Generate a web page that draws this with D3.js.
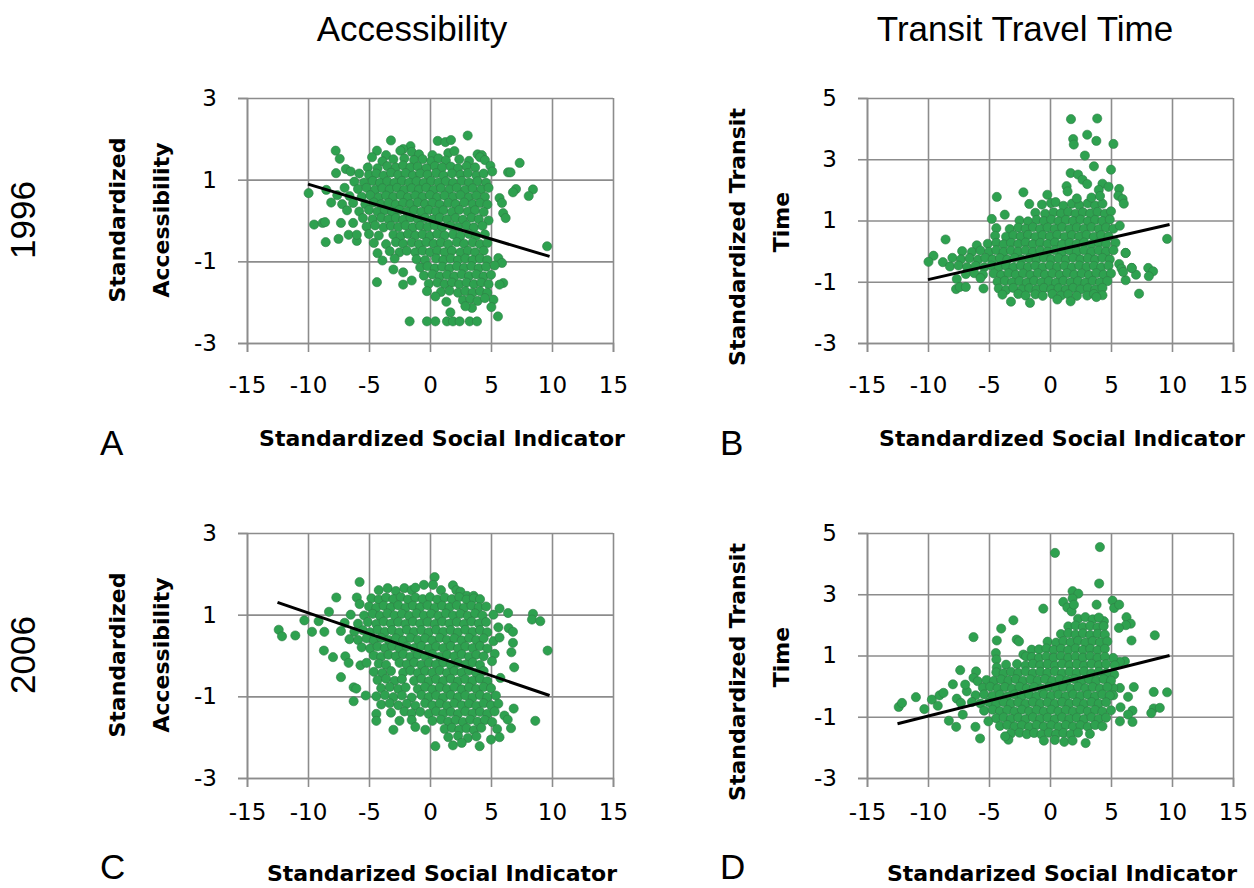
<!DOCTYPE html>
<html>
<head>
<meta charset="utf-8">
<script src="https://cdn.jsdelivr.net/npm/d3@7"></script>
<style>
body { margin: 0; background: #fff; }
</style>
</head>
<body>
<script>
// ---- data ----
var xTicks = [-15, -10, -5, 0, 5, 10, 15];
var accTicks = [-3, -1, 1, 3];
var timeTicks = [-3, -1, 1, 3, 5];

var colTitles = ["Accessibility", "Transit Travel Time"];
var rowTitles = ["1996", "2006"];
var panelLetters = ["A", "B", "C", "D"];
var xTitles = ["Standardized Social Indicator", "Standardized Social Indicator",
               "Standarized Social Indicator", "Standarized Social Indicator"];
var yTitlesAcc = ["Standardized", "Accessibility"];
var yTitlesTime = ["Standardized Transit", "Time"];

// A: 1996 accessibility
var pointsA = [
 [-3.2,1.96],[0.63,1.95],[1.26,1.92],[1.72,1.97],[3.09,2.08],[-1.6,1.82],[-2.2,1.75],
 [-7.73,1.71],[-4.35,1.71],[-2.43,1.71],[-1.5,1.68],[-0.9,1.62],[0.2,1.6],[1.5,1.65],[2.0,1.7],[3.9,1.62],[4.25,1.6],[-3.6,1.6],
 [-7.4,1.51],[-4.75,1.55],[-3.9,1.45],[-3.0,1.5],[-2.1,1.52],[-1.3,1.48],[-0.6,1.5],[0.1,1.45],[0.7,1.52],[1.3,1.47],[2.4,1.5],[3.2,1.46],[4.1,1.55],[4.5,1.48],[7.35,1.41],
 [-5.1,1.3],[-4.3,1.28],[-3.5,1.33],[-2.8,1.3],[-2.2,1.35],[-1.6,1.3],[-1.0,1.32],[-0.3,1.28],[0.4,1.33],[1.0,1.3],[1.7,1.32],[2.3,1.28],[3.0,1.33],[3.7,1.3],[4.95,1.34],[-6.9,1.26],[-6.5,1.2],
 [-7.7,1.16],[-5.8,1.15],[-5.0,1.12],[-4.4,1.15],[-3.8,1.1],[-3.2,1.17],[-2.6,1.12],[-2.0,1.16],[-1.4,1.1],[-0.8,1.15],[-0.2,1.12],[0.5,1.16],[1.1,1.1],[1.8,1.15],[2.5,1.12],[3.1,1.16],[3.8,1.1],[4.4,1.15],[5.1,1.2],[6.4,1.18],[6.6,1.18],
 [-6.2,0.95],[-5.4,0.93],[-4.7,0.97],[-4.1,0.92],[-3.5,0.96],[-2.9,0.92],[-2.3,0.97],[-1.7,0.93],[-1.1,0.96],[-0.5,0.92],[0.1,0.97],[0.7,0.93],[1.3,0.96],[1.9,0.92],[2.6,0.97],[3.2,0.93],[3.9,0.96],[4.6,0.92],
 [-8.5,0.75],[-7.0,0.8],[-5.9,0.77],[-5.2,0.8],[-4.5,0.75],[-3.9,0.79],[-3.3,0.76],[-2.7,0.8],[-2.1,0.75],[-1.5,0.79],[-0.9,0.76],[-0.3,0.8],[0.3,0.75],[0.9,0.79],[1.6,0.76],[2.2,0.8],[2.9,0.75],[3.5,0.79],[4.2,0.76],[4.8,0.8],[7.05,0.77],[8.44,0.76],
 [-9.95,0.67],[-7.6,0.62],[-6.6,0.6],[-5.6,0.58],[-4.9,0.62],[-4.2,0.57],[-3.6,0.61],[-3.0,0.58],[-2.4,0.62],[-1.8,0.57],[-1.2,0.61],[-0.6,0.58],[0.0,0.62],[0.6,0.57],[1.2,0.61],[1.9,0.58],[2.5,0.62],[3.2,0.57],[3.8,0.61],[4.5,0.58],[6.8,0.69],[8.09,0.6],[5.7,0.55],
 [-8.1,0.44],[-7.2,0.4],[-6.3,0.43],[-5.3,0.4],[-4.6,0.44],[-4.0,0.4],[-3.4,0.43],[-2.8,0.39],[-2.2,0.43],[-1.6,0.4],[-1.0,0.44],[-0.4,0.4],[0.2,0.43],[0.8,0.39],[1.5,0.43],[2.1,0.4],[2.8,0.44],[3.5,0.4],[4.1,0.43],[4.7,0.39],[5.9,0.43],
 [-6.8,0.25],[-5.8,0.22],[-5.0,0.26],[-4.3,0.22],[-3.7,0.25],[-3.1,0.21],[-2.5,0.26],[-1.9,0.22],[-1.3,0.25],[-0.7,0.21],[-0.1,0.26],[0.5,0.22],[1.1,0.25],[1.8,0.21],[2.4,0.26],[3.1,0.22],[3.7,0.25],[4.4,0.21],[6.0,0.18],
 [-9.5,-0.1],[-8.8,-0.06],[-8.6,-0.04],[-7.3,-0.06],[-6.3,-0.06],[-5.5,0.06],[-4.7,0.03],[-4.0,0.07],[-3.4,0.03],[-2.8,0.06],[-2.2,0.02],[-1.6,0.07],[-1.0,0.03],[-0.4,0.06],[0.2,0.02],[0.8,0.07],[1.4,0.03],[2.1,0.06],[2.7,0.02],[3.4,0.07],[4.0,0.03],[4.8,0.0],[6.2,0.06],
 [-5.2,-0.15],[-4.5,-0.12],[-3.8,-0.17],[-3.2,-0.13],[-2.6,-0.16],[-2.0,-0.12],[-1.4,-0.17],[-0.8,-0.13],[-0.2,-0.16],[0.4,-0.12],[1.0,-0.17],[1.7,-0.13],[2.3,-0.16],[3.0,-0.12],[3.6,-0.17],[4.3,-0.13],
 [-8.55,-0.53],[-7.5,-0.45],[-6.67,-0.35],[-6.0,-0.5],[-6.0,-0.35],[-5.0,-0.33],[-4.2,-0.37],[-3.0,-0.35],[-2.4,-0.38],[-1.8,-0.33],[-1.2,-0.37],[-0.6,-0.34],[0.0,-0.38],[0.6,-0.33],[1.2,-0.37],[1.9,-0.34],[2.5,-0.38],[3.2,-0.33],[3.8,-0.37],[4.5,-0.34],
 [-4.6,-0.55],[-3.6,-0.58],[-2.8,-0.53],[-2.2,-0.57],[-1.5,-0.54],[-0.9,-0.58],[-0.3,-0.53],[0.3,-0.57],[0.9,-0.54],[1.5,-0.58],[2.2,-0.53],[2.8,-0.57],[3.5,-0.54],[4.1,-0.58],[4.7,-0.55],[9.6,-0.63],
 [-4.3,-0.8],[-3.3,-0.75],[-2.5,-0.78],[-1.9,-0.74],[-1.2,-0.78],[-0.6,-0.74],[0.0,-0.78],[0.6,-0.74],[1.2,-0.78],[1.8,-0.74],[2.5,-0.78],[3.1,-0.74],[3.7,-0.78],[4.4,-0.74],
 [-3.9,-0.98],[-2.9,-0.93],[-1.1,-0.95],[-0.4,-0.97],[0.5,-0.93],[1.1,-0.97],[1.7,-0.93],[2.3,-0.97],[2.9,-0.93],[3.5,-0.97],[4.1,-0.93],[4.7,-0.97],[5.6,-0.92],[5.9,-1.04],
 [-3.0,-1.2],[-2.2,-1.27],[-0.8,-1.15],[-0.2,-1.12],[0.4,-1.17],[1.0,-1.13],[1.6,-1.17],[2.2,-1.12],[2.8,-1.16],[3.4,-1.12],[4.0,-1.17],[4.6,-1.13],[5.3,-1.1],
 [-1.5,-1.47],[-0.5,-1.35],[0.2,-1.32],[0.8,-1.37],[1.4,-1.33],[2.0,-1.37],[2.6,-1.32],[3.2,-1.36],[3.8,-1.32],[4.4,-1.37],[5.0,-1.33],
 [-4.35,-1.51],[-2.2,-1.57],[-0.1,-1.55],[0.6,-1.52],[1.2,-1.56],[1.8,-1.52],[2.4,-1.56],[3.0,-1.52],[3.6,-1.56],[4.2,-1.52],[4.8,-1.56],[6.0,-1.53],[5.7,-1.57],
 [-0.25,-1.73],[0.9,-1.75],[1.6,-1.72],[2.3,-1.77],[2.9,-1.73],[3.5,-1.77],[4.1,-1.73],[4.7,-1.77],
 [0.44,-1.86],[1.34,-1.99],[2.7,-1.95],[3.3,-1.92],[3.9,-1.97],[5.2,-1.94],[4.5,-1.9],
 [1.67,-2.25],[3.44,-2.14],[5.03,-2.12],[2.9,-2.1],
 [-1.67,-2.47],[-0.25,-2.47],[0.44,-2.47],[1.39,-2.47],[1.88,-2.47],[2.43,-2.47],[3.25,-2.47],[3.85,-2.47],[5.57,-2.35]
];

// B: 1996 transit travel time
var pointsB = [
 [1.72,4.31],[3.87,4.33],[1.9,3.66],[1.95,3.48],[3.05,3.8],[3.8,3.6],[5.2,3.5],[2.86,3.12],[3.6,2.77],[5.0,2.66],
 [1.69,2.55],[2.3,2.5],[2.67,2.33],[3.05,2.19],[1.36,2.12],[1.44,1.95],[4.3,2.2],[4.0,2.0],[4.8,2.1],
 [5.67,2.03],[5.6,1.81],[5.95,1.7],[6.05,1.55],[-2.18,1.92],[-0.22,1.84],[-4.36,1.77],
 [-1.7,1.54],[-0.66,1.52],[0.08,1.57],[0.46,1.6],[1.1,1.48],[1.8,1.55],[2.4,1.5],[3.1,1.56],[3.7,1.49],[4.3,1.55],[3.4,1.75],[4.1,1.8],[2.2,1.72],
 [-3.71,1.19],[-1.2,1.25],[-0.4,1.22],[0.3,1.27],[0.9,1.23],[1.5,1.28],[2.1,1.22],[2.7,1.27],[3.3,1.23],[3.9,1.28],[4.5,1.22],[5.0,1.3],
 [-4.77,1.05],[-2.5,1.0],[-1.8,0.97],[-1.1,1.02],[-0.5,0.98],[0.1,1.03],[0.7,0.97],[1.3,1.02],[1.9,0.98],[2.5,1.03],[3.1,0.97],[3.7,1.02],[4.3,0.98],[4.9,1.03],
 [-4.4,0.75],[-3.3,0.72],[-2.6,0.77],[-2.0,0.73],[-1.4,0.78],[-0.8,0.72],[-0.2,0.77],[0.4,0.73],[1.0,0.78],[1.6,0.72],[2.2,0.77],[2.8,0.73],[3.4,0.78],[4.0,0.72],[4.6,0.77],[5.2,0.73],[5.72,0.83],
 [-4.5,0.5],[-3.6,0.47],[-3.0,0.52],[-2.4,0.48],[-1.8,0.53],[-1.2,0.47],[-0.6,0.52],[0.0,0.48],[0.6,0.53],[1.2,0.47],[1.8,0.52],[2.4,0.48],[3.0,0.53],[3.6,0.47],[4.2,0.52],[4.8,0.48],
 [-8.56,0.38],[-6.0,0.19],[-5.1,0.24],[-4.4,0.27],[-3.8,0.22],[-3.2,0.27],[-2.6,0.23],[-2.0,0.28],[-1.4,0.22],[-0.8,0.27],[-0.2,0.23],[0.4,0.28],[1.0,0.22],[1.6,0.27],[2.2,0.23],[2.8,0.28],[3.4,0.22],[4.0,0.27],[4.6,0.23],[5.37,0.27],
 [-7.2,0.0],[-6.4,-0.03],[-5.7,0.02],[-5.0,-0.02],[-4.4,0.03],[-3.8,-0.03],[-3.2,0.02],[-2.6,-0.02],[-2.0,0.03],[-1.4,-0.03],[-0.8,0.02],[-0.2,-0.02],[0.4,0.03],[1.0,-0.03],[1.6,0.02],[2.2,-0.02],[2.8,0.03],[3.4,-0.03],[4.0,0.02],[4.6,-0.02],[5.2,0.03],[6.2,-0.06],
 [-9.55,-0.15],[-8.0,-0.22],[-7.3,-0.27],[-6.6,-0.23],[-5.9,-0.28],[-5.3,-0.22],[-4.7,-0.27],[-4.1,-0.23],[-3.5,-0.28],[-2.9,-0.22],[-2.3,-0.27],[-1.7,-0.23],[-1.1,-0.28],[-0.5,-0.22],[0.1,-0.27],[0.7,-0.23],[1.3,-0.28],[1.9,-0.22],[2.5,-0.27],[3.1,-0.23],[3.7,-0.28],[4.3,-0.22],[4.9,-0.27],
 [-9.96,-0.35],[-8.78,-0.36],[-8.2,-0.5],[-7.5,-0.47],[-6.8,-0.52],[-6.1,-0.48],[-5.4,-0.53],[-4.8,-0.47],[-4.2,-0.52],[-3.6,-0.48],[-3.0,-0.53],[-2.4,-0.47],[-1.8,-0.52],[-1.2,-0.48],[-0.6,-0.53],[0.0,-0.47],[0.6,-0.52],[1.2,-0.48],[1.8,-0.53],[2.4,-0.47],[3.0,-0.52],[3.6,-0.48],[4.2,-0.53],[4.8,-0.47],[5.67,-0.42],[6.7,-0.55],[8.05,-0.55],
 [-7.64,-0.91],[-6.9,-0.75],[-6.2,-0.72],[-5.5,-0.77],[-4.6,-0.73],[-4.0,-0.78],[-3.4,-0.72],[-2.8,-0.77],[-2.2,-0.73],[-1.6,-0.78],[-1.0,-0.72],[-0.4,-0.77],[0.2,-0.73],[0.8,-0.78],[1.4,-0.72],[2.0,-0.77],[2.6,-0.73],[3.2,-0.78],[3.8,-0.72],[4.4,-0.77],[5.0,-0.73],[5.86,-0.57],[7.05,-0.77],[8.45,-0.66],
 [-5.7,-0.88],[-4.3,-1.0],[-3.7,-0.97],[-3.1,-1.02],[-2.5,-0.98],[-1.9,-1.03],[-1.3,-0.97],[-0.7,-1.02],[-0.1,-0.98],[0.5,-1.03],[1.1,-0.97],[1.7,-1.02],[2.3,-0.98],[2.9,-1.03],[3.5,-0.97],[4.1,-1.02],[4.7,-0.98],[6.2,-0.95],[8.1,-0.82],[6.0,-0.68],
 [-7.7,-1.24],[-7.4,-1.17],[-6.9,-1.17],[-5.45,-1.22],[-4.2,-1.22],[-3.6,-1.27],[-3.0,-1.2],[-2.3,-1.25],[-1.7,-1.21],[-1.1,-1.26],[-0.5,-1.2],[0.1,-1.25],[0.7,-1.21],[1.3,-1.26],[1.9,-1.2],[2.5,-1.25],[3.1,-1.21],[3.7,-1.26],[4.3,-1.2],
 [-3.9,-1.42],[-2.6,-1.4],[-2.0,-1.45],[-1.2,-1.41],[-0.6,-1.46],[0.2,-1.4],[0.9,-1.45],[1.5,-1.41],[2.2,-1.46],[3.05,-1.45],[3.6,-1.4],[4.3,-1.44],[7.3,-1.39],
 [-3.2,-1.65],[-1.64,-1.69],[0.6,-1.58],[1.69,-1.64],[3.8,-1.5],
 [9.6,0.4],[6.7,-0.55],[6.2,-0.06]
];

// C: 2006 accessibility
var pointsC = [
 [0.38,1.92],[-5.77,1.8],[-7.68,1.42],
 [-4.2,1.6],[-3.47,1.65],[-2.8,1.58],[-2.1,1.65],[-1.5,1.6],[-1.2,1.66],[-0.5,1.73],[0.25,1.73],[0.9,1.6],[1.88,1.72],[2.16,1.6],[2.5,1.56],[3.03,1.46],[3.58,1.46],
 [-6.0,1.42],[-4.8,1.4],[-4.2,1.37],[-3.6,1.42],[-3.0,1.38],[-2.4,1.43],[-1.8,1.37],[-1.2,1.42],[-0.6,1.38],[0.0,1.43],[0.6,1.37],[1.2,1.42],[1.8,1.38],[2.4,1.43],[3.0,1.37],[3.6,1.4],[4.1,1.38],
 [-5.77,1.26],[-5.0,1.2],[-4.4,1.17],[-3.8,1.22],[-3.2,1.18],[-2.6,1.23],[-2.0,1.17],[-1.4,1.22],[-0.8,1.18],[-0.2,1.23],[0.4,1.17],[1.0,1.22],[1.6,1.18],[2.2,1.23],[2.8,1.17],[3.4,1.22],[4.0,1.18],[4.6,1.2],[5.7,1.15],
 [-8.28,1.07],[-6.5,1.0],[-5.4,0.98],[-4.7,1.02],[-4.1,0.97],[-3.5,1.03],[-2.9,0.98],[-2.3,1.02],[-1.7,0.97],[-1.1,1.03],[-0.5,0.98],[0.1,1.02],[0.7,0.97],[1.3,1.03],[1.9,0.98],[2.5,1.02],[3.1,0.97],[3.7,1.03],[4.3,0.98],[5.2,1.0],[6.4,1.04],[8.44,1.02],
 [-10.3,0.86],[-9.13,0.84],[-7.0,0.8],[-5.9,0.78],[-5.1,0.82],[-4.4,0.77],[-3.8,0.83],[-3.2,0.78],[-2.6,0.82],[-2.0,0.77],[-1.4,0.83],[-0.8,0.78],[-0.2,0.82],[0.4,0.77],[1.0,0.83],[1.6,0.78],[2.2,0.82],[2.8,0.77],[3.4,0.83],[4.0,0.78],[4.6,0.82],[8.36,0.88],[9.04,0.84],
 [-12.4,0.63],[-9.67,0.58],[-8.66,0.58],[-7.3,0.6],[-6.2,0.58],[-5.5,0.62],[-4.9,0.57],[-4.3,0.63],[-3.7,0.58],[-3.1,0.62],[-2.5,0.57],[-1.9,0.63],[-1.3,0.58],[-0.7,0.62],[-0.1,0.57],[0.5,0.63],[1.1,0.58],[1.7,0.62],[2.3,0.57],[2.9,0.63],[3.5,0.58],[4.1,0.62],[4.7,0.57],[5.6,0.69],[6.45,0.67],[6.8,0.58],
 [-12.13,0.47],[-11.04,0.49],[-6.6,0.4],[-5.9,0.38],[-5.2,0.42],[-4.6,0.37],[-4.0,0.43],[-3.4,0.38],[-2.8,0.42],[-2.2,0.37],[-1.6,0.43],[-1.0,0.38],[-0.4,0.42],[0.2,0.37],[0.8,0.43],[1.4,0.38],[2.0,0.42],[2.6,0.37],[3.2,0.43],[3.8,0.38],[4.4,0.42],[5.2,0.35],[5.7,0.44],[6.8,0.31],
 [-8.7,0.12],[-5.6,0.2],[-4.9,0.17],[-4.3,0.22],[-3.7,0.18],[-3.1,0.23],[-2.5,0.17],[-1.9,0.22],[-1.3,0.18],[-0.7,0.23],[-0.1,0.17],[0.5,0.22],[1.1,0.18],[1.7,0.23],[2.3,0.17],[2.9,0.22],[3.5,0.18],[4.1,0.23],[4.7,0.17],[6.67,0.08],[9.64,0.12],
 [-7.95,-0.04],[-6.94,-0.02],[-4.6,0.0],[-4.0,-0.03],[-3.4,0.02],[-2.8,-0.02],[-2.2,0.03],[-1.6,-0.03],[-1.0,0.02],[-0.4,-0.02],[0.2,0.03],[0.8,-0.03],[1.4,0.02],[2.0,-0.02],[2.6,0.03],[3.2,-0.03],[3.8,0.02],[4.4,-0.02],[5.3,0.04],
 [-6.67,-0.18],[-5.7,-0.24],[-5.2,-0.18],[-4.2,-0.2],[-3.6,-0.23],[-2.5,-0.18],[-1.9,-0.22],[-1.3,-0.17],[-0.7,-0.23],[-0.1,-0.18],[0.5,-0.22],[1.1,-0.17],[1.7,-0.23],[2.3,-0.18],[2.9,-0.22],[3.5,-0.17],[4.1,-0.23],[5.08,-0.14],[6.9,-0.29],
 [-4.6,-0.4],[-3.9,-0.43],[-3.2,-0.38],[-2.2,-0.42],[-1.6,-0.37],[-1.0,-0.43],[-0.4,-0.38],[0.2,-0.42],[0.8,-0.37],[1.4,-0.43],[2.0,-0.38],[2.6,-0.42],[3.2,-0.37],[3.8,-0.43],[4.4,-0.38],
 [-7.3,-0.53],[-4.3,-0.6],[-3.6,-0.57],[-2.9,-0.62],[-2.3,-0.58],[-1.3,-0.62],[-0.7,-0.57],[-0.1,-0.63],[0.5,-0.58],[1.1,-0.62],[1.7,-0.57],[2.3,-0.63],[2.9,-0.58],[3.5,-0.62],[4.1,-0.57],[4.7,-0.63],[5.77,-0.55],
 [-6.26,-0.78],[-6.04,-0.81],[-4.0,-0.8],[-3.3,-0.77],[-2.6,-0.82],[-2.0,-0.78],[-1.0,-0.82],[-0.4,-0.77],[0.2,-0.83],[0.8,-0.78],[1.4,-0.82],[2.0,-0.77],[2.6,-0.83],[3.2,-0.78],[3.8,-0.82],[4.4,-0.77],[5.0,-0.8],
 [-5.27,-0.98],[-4.4,-1.0],[-3.7,-0.97],[-3.0,-1.02],[-2.3,-0.98],[-1.5,-1.03],[-0.7,-0.97],[-0.1,-1.02],[0.5,-0.98],[1.1,-1.03],[1.7,-0.97],[2.3,-1.02],[2.9,-0.98],[3.5,-1.03],[4.1,-0.97],[4.7,-1.02],[5.4,-0.98],
 [-6.26,-1.12],[-4.0,-1.2],[-3.3,-1.17],[-2.6,-1.22],[-1.9,-1.18],[-1.2,-1.23],[-0.4,-1.17],[0.2,-1.22],[0.8,-1.18],[1.4,-1.23],[2.0,-1.17],[2.6,-1.22],[3.2,-1.18],[3.8,-1.23],[4.4,-1.17],[5.0,-1.22],[5.6,-1.18],
 [-4.4,-1.43],[-3.2,-1.4],[-2.1,-1.37],[-1.5,-1.42],[-0.8,-1.38],[-0.1,-1.43],[0.5,-1.37],[1.1,-1.42],[1.7,-1.38],[2.3,-1.43],[2.9,-1.37],[3.5,-1.42],[4.1,-1.38],[4.7,-1.43],[5.3,-1.37],[6.1,-1.47],[6.86,-1.3],
 [-4.4,-1.6],[-2.5,-1.6],[-1.5,-1.58],[0.2,-1.6],[0.9,-1.57],[1.5,-1.62],[2.1,-1.58],[2.7,-1.63],[3.3,-1.57],[3.9,-1.62],[4.5,-1.58],[5.1,-1.63],[6.37,-1.57],[8.63,-1.6],
 [-3.0,-1.82],[-1.2,-1.75],[-0.38,-1.82],[1.2,-1.8],[1.8,-1.77],[2.4,-1.82],[3.0,-1.78],[3.6,-1.83],[4.2,-1.77],[5.5,-1.8],[6.64,-1.78],
 [1.5,-2.0],[2.3,-1.97],[3.1,-2.02],[3.8,-1.98],[5.0,-2.06],[5.7,-2.0],
 [0.44,-2.22],[1.88,-2.2],[2.6,-2.14],[4.07,-2.22]
];

// D: 2006 transit travel time
var pointsD = [
 [0.41,4.35],[4.09,4.54],[4.03,3.35],
 [1.85,3.1],[2.32,3.02],[1.85,2.86],[1.09,2.75],[1.42,2.57],[1.77,2.44],[1.96,2.66],[3.82,2.66],
 [-0.55,2.53],[-3.0,2.15],[-4.0,1.88],[-6.27,1.6],[-4.36,1.49],[-2.73,1.52],[-2.54,1.46],
 [5.13,2.79],[5.26,2.55],[5.67,2.66],[4.42,2.12],[6.27,2.25],[6.62,2.04],[6.22,1.99],[5.65,1.9],[6.68,1.49],[8.59,1.66],
 [-4.44,1.08],[-4.4,0.87],[-4.36,0.61],[-1.5,1.19],[-2.18,1.03],[-1.96,0.97],
 [6.14,0.81],[5.73,0.79],[5.18,0.92],[5.26,0.38],[6.87,-0.03],[5.73,-0.06],[5.18,-0.06],[6.4,-0.35],[5.18,-0.3],
 [8.5,-0.19],[9.6,-0.2],[8.5,-0.73],[9.0,-0.71],[8.3,-0.88],[6.76,-0.8],[6.4,-0.93],[6.76,-1.17],[5.73,-1.15],[5.78,-0.69],
 [-12.4,-0.68],[-12.13,-0.55],[-10.99,-0.36],[-10.3,-0.75],[-9.68,-0.44],[-9.05,-0.3],[-8.73,-0.22],[-9.2,-0.64],
 [-7.96,0.06],[-7.36,0.52],[-7.64,-0.41],[-6.82,-0.17],[-6.95,0.05],[-6.06,0.48],[-6.27,0.27],[-5.92,0.16],
 [-8.29,-1.13],[-7.69,-1.33],[-7.15,-0.93],[-6.11,-1.33],[-5.73,-1.71],[-5.05,-1.15],
 [2.3,2.2],[2.9,2.25],[3.5,2.18],[4.0,2.24],
 [1.5,1.95],[2.1,1.98],[2.7,1.93],[3.3,1.97],[3.9,1.92],[4.4,1.96],
 [0.9,1.7],[1.5,1.73],[2.1,1.68],[2.7,1.72],[3.3,1.67],[3.9,1.71],[4.5,1.68],
 [-0.2,1.45],[0.5,1.42],[1.1,1.47],[1.7,1.43],[2.3,1.48],[2.9,1.42],[3.5,1.47],[4.1,1.43],[4.7,1.46],
 [-0.9,1.2],[-0.3,1.23],[0.3,1.18],[0.9,1.22],[1.5,1.17],[2.1,1.23],[2.7,1.18],[3.3,1.22],[3.9,1.17],[4.5,1.22],
 [-1.5,0.95],[-0.9,0.92],[-0.3,0.97],[0.3,0.93],[0.9,0.98],[1.5,0.92],[2.1,0.97],[2.7,0.93],[3.3,0.98],[3.9,0.92],[4.5,0.96],
 [-3.6,0.7],[-2.7,0.72],[-2.0,0.67],[-1.4,0.73],[-0.8,0.68],[-0.2,0.72],[0.4,0.67],[1.0,0.73],[1.6,0.68],[2.2,0.72],[2.8,0.67],[3.4,0.73],[4.0,0.68],[4.6,0.72],[5.3,0.68],
 [-4.4,0.45],[-3.8,0.42],[-3.2,0.47],[-2.6,0.43],[-2.0,0.48],[-1.4,0.42],[-0.8,0.47],[-0.2,0.43],[0.4,0.48],[1.0,0.42],[1.6,0.47],[2.2,0.43],[2.8,0.48],[3.4,0.42],[4.0,0.47],[4.6,0.43],
 [-5.2,0.2],[-4.6,0.17],[-4.0,0.22],[-3.4,0.18],[-2.8,0.23],[-2.2,0.17],[-1.6,0.22],[-1.0,0.18],[-0.4,0.23],[0.2,0.17],[0.8,0.22],[1.4,0.18],[2.0,0.23],[2.6,0.17],[3.2,0.22],[3.8,0.18],[4.4,0.23],[5.0,0.18],
 [-5.5,-0.05],[-4.9,-0.02],[-4.3,-0.07],[-3.7,-0.03],[-3.1,-0.08],[-2.5,-0.02],[-1.9,-0.07],[-1.3,-0.03],[-0.7,-0.08],[-0.1,-0.02],[0.5,-0.07],[1.1,-0.03],[1.7,-0.08],[2.3,-0.02],[2.9,-0.07],[3.5,-0.03],[4.1,-0.08],[4.7,-0.03],
 [-6.1,-0.3],[-5.4,-0.27],[-4.7,-0.32],[-4.1,-0.28],[-3.5,-0.33],[-2.9,-0.27],[-2.3,-0.32],[-1.7,-0.28],[-1.1,-0.33],[-0.5,-0.27],[0.1,-0.32],[0.7,-0.28],[1.3,-0.33],[1.9,-0.27],[2.5,-0.32],[3.1,-0.28],[3.7,-0.33],[4.3,-0.27],[4.9,-0.31],
 [-7.3,-0.55],[-6.4,-0.52],[-5.7,-0.57],[-5.0,-0.53],[-4.4,-0.58],[-3.8,-0.52],[-3.2,-0.57],[-2.6,-0.53],[-2.0,-0.58],[-1.4,-0.52],[-0.8,-0.57],[-0.2,-0.53],[0.4,-0.58],[1.0,-0.52],[1.6,-0.57],[2.2,-0.53],[2.8,-0.58],[3.4,-0.52],[4.0,-0.57],[4.6,-0.53],
 [-5.4,-0.8],[-4.7,-0.77],[-4.1,-0.82],[-3.5,-0.78],[-2.9,-0.83],[-2.3,-0.77],[-1.7,-0.82],[-1.1,-0.78],[-0.5,-0.83],[0.1,-0.77],[0.7,-0.82],[1.3,-0.78],[1.9,-0.83],[2.5,-0.77],[3.1,-0.82],[3.7,-0.78],[4.3,-0.83],[5.0,-0.79],
 [-4.4,-1.05],[-3.8,-1.02],[-3.2,-1.07],[-2.6,-1.03],[-2.0,-1.08],[-1.4,-1.02],[-0.8,-1.07],[-0.2,-1.03],[0.4,-1.08],[1.0,-1.02],[1.6,-1.07],[2.2,-1.03],[2.8,-1.08],[3.4,-1.02],[4.0,-1.07],[4.6,-1.03],
 [-4.1,-1.3],[-3.5,-1.27],[-2.9,-1.32],[-2.3,-1.28],[-1.7,-1.33],[-1.1,-1.27],[-0.5,-1.32],[0.1,-1.28],[0.7,-1.33],[1.3,-1.27],[1.9,-1.32],[2.5,-1.28],[3.1,-1.33],[3.7,-1.27],[4.3,-1.31],
 [-3.2,-1.55],[-2.5,-1.52],[-1.9,-1.57],[-1.3,-1.53],[-0.7,-1.58],[-0.1,-1.52],[0.5,-1.57],[1.1,-1.53],[1.7,-1.58],[2.3,-1.52],[3.27,-1.56],
 [-3.41,-1.75],[-3.68,-1.64],[-0.5,-1.78],[0.4,-1.76],[1.17,-1.82],[1.85,-1.78],[2.92,-1.86]
];

// fitted lines, two end points each
var trendA = [[-10.0, 0.89], [9.8, -0.88]];
var trendB = [[-10.0, -0.93], [9.8, 0.87]];
var trendC = [[-12.5, 1.3], [9.8, -0.98]];
var trendD = [[-12.5, -1.23], [9.8, 1.0]];

// ---- drawing ----
var plot_w = 366, plot_h = 245;
var grid_col = "#8c8c8c",
    dot_fill = "#2ea14f",
    dot_stroke = "#2f7d47";

var svg = d3.select("body").append("svg")
    .attr("width", 1254)
    .attr("height", 888);

function draw_panel(p) {
    var xScale = d3.scaleLinear().domain([-15, 15]).range([0, plot_w]);
    var yScale = d3.scaleLinear().domain(p.yDomain).range([plot_h, 0]);
    var plain = function(d) { return String(d); };   // hyphen minus, no decimals

    var g = svg.append("g")
        .attr("transform", "translate(" + p.left + "," + p.top + ")");

    // grid lines
    var gx = g.append("g")
        .attr("transform", "translate(0," + plot_h + ")")
        .call(d3.axisBottom(xScale).tickValues(xTicks).tickSize(-plot_h).tickFormat(""));
    var gy = g.append("g")
        .call(d3.axisLeft(yScale).tickValues(p.yTicks).tickSize(-plot_w).tickFormat(""));
    [gx, gy].forEach(function(a) {
        a.select(".domain").remove();
        a.selectAll("line").attr("stroke", grid_col).attr("stroke-width", 1.6);
    });

    // labelled axes with short outside ticks
    var ax = g.append("g")
        .attr("transform", "translate(0," + plot_h + ")")
        .call(d3.axisBottom(xScale).tickValues(xTicks).tickSize(9).tickPadding(p.xPad).tickFormat(plain));
    var ay = g.append("g")
        .call(d3.axisLeft(yScale).tickValues(p.yTicks).tickSize(9).tickPadding(21).tickFormat(plain));
    [ax, ay].forEach(function(a) {
        a.attr("font-family", "'DejaVu Sans', Verdana, sans-serif").attr("font-size", 23);
        a.select(".domain").attr("stroke", grid_col).attr("stroke-width", 1.6);
        a.selectAll("line").attr("stroke", grid_col).attr("stroke-width", 1.6);
        a.selectAll("text").attr("fill", "#000");
    });

    // points
    g.selectAll(".dot").data(p.points).enter().append("circle")
        .attr("class", "dot")
        .attr("cx", function(d) { return xScale(d[0]); })
        .attr("cy", function(d) { return yScale(d[1]); })
        .attr("r", 4.6)
        .attr("fill", dot_fill)
        .attr("stroke", dot_stroke)
        .attr("stroke-width", 0.6);

    // trend line
    g.append("path")
        .datum(p.trend)
        .attr("d", d3.line().x(function(d) { return xScale(d[0]); }).y(function(d) { return yScale(d[1]); }))
        .attr("stroke", "#000")
        .attr("stroke-width", 3)
        .attr("fill", "none");

    // axis titles
    svg.append("text")
        .attr("x", p.left + 195).attr("y", p.top + 348)
        .attr("text-anchor", "middle")
        .attr("font-family", "'DejaVu Sans', Verdana, sans-serif")
        .attr("font-weight", "bold").attr("font-size", 22)
        .text(p.xTitle);

    p.yTitle.forEach(function(t, i) {
        svg.append("text")
            .attr("transform", "translate(" + (p.left + [-122, -78][i]) + "," + (p.top + p.yTitleY[i]) + ") rotate(-90)")
            .attr("text-anchor", "middle")
            .attr("font-family", "'DejaVu Sans', Verdana, sans-serif")
            .attr("font-weight", "bold").attr("font-size", 22)
            .text(t);
    });

    // panel letter; the bottom row sits at the lower edge of the page
    svg.append("text")
        .attr("x", p.left - 147).attr("y", Math.min(p.top + 357, 879))
        .attr("font-family", "'Liberation Sans', Arial, sans-serif")
        .attr("font-size", 35)
        .text(p.letter);
}

var panels = [
    {left: 247, top: 98, yDomain: [-3, 3], yTicks: accTicks, points: pointsA, trend: trendA,
     letter: panelLetters[0], xTitle: xTitles[0], xPad: 25, yTitle: yTitlesAcc, yTitleY: [122, 122]},
    {left: 867, top: 98, yDomain: [-3, 5], yTicks: timeTicks, points: pointsB, trend: trendB,
     letter: panelLetters[1], xTitle: xTitles[1], xPad: 25, yTitle: yTitlesTime, yTitleY: [139, 124]},
    {left: 247, top: 533, yDomain: [-3, 3], yTicks: accTicks, points: pointsC, trend: trendC,
     letter: panelLetters[2], xTitle: xTitles[2], xPad: 17, yTitle: yTitlesAcc, yTitleY: [122, 122]},
    {left: 867, top: 533, yDomain: [-3, 5], yTicks: timeTicks, points: pointsD, trend: trendD,
     letter: panelLetters[3], xTitle: xTitles[3], xPad: 17, yTitle: yTitlesTime, yTitleY: [139, 124]}
];

panels.forEach(draw_panel);

// column and row headings
svg.selectAll(".coltitle").data(colTitles).enter().append("text")
    .attr("class", "coltitle")
    .attr("x", function(d, i) { return [412, 1025][i]; })
    .attr("y", 41)
    .attr("text-anchor", "middle")
    .attr("font-family", "'Liberation Sans', Arial, sans-serif")
    .attr("font-size", 35)
    .text(function(d) { return d; });

svg.selectAll(".rowtitle").data(rowTitles).enter().append("text")
    .attr("class", "rowtitle")
    .attr("transform", function(d, i) { return "translate(35," + [220, 655][i] + ") rotate(-90)"; })
    .attr("text-anchor", "middle")
    .attr("font-family", "'Liberation Sans', Arial, sans-serif")
    .attr("font-size", 35)
    .text(function(d) { return d; });
</script>
</body>
</html>
